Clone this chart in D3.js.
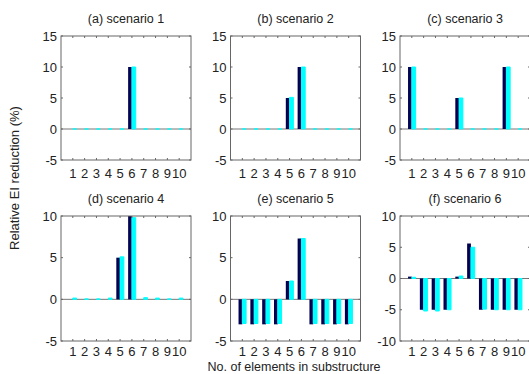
<!DOCTYPE html>
<html><head><meta charset="utf-8">
<script src="https://cdn.jsdelivr.net/npm/d3@7"></script>
<style>body{margin:0;background:#fff}svg{display:block}text{font-family:"Liberation Sans",Arial,sans-serif;fill:#222}</style>
</head><body><svg id="c" width="529" height="374"></svg>
<script>
const elements = [1,2,3,4,5,6,7,8,9,10];
const titles = ["(a) scenario 1","(b) scenario 2","(c) scenario 3","(d) scenario 4","(e) scenario 5","(f) scenario 6"];
const yDomains = [[-5,15],[-5,15],[-5,15],[-5,10],[-5,10],[-10,10]];
const yTicks = [[-5,0,5,10,15],[-5,0,5,10,15],[-5,0,5,10,15],[-5,0,5,10],[-5,0,5,10],[-10,-5,0,5,10]];
// series 1 (dark) and series 2 (cyan) per scenario
const s1 = [
  [0,0,0,0,0,10,0,0,0,0],
  [0,0,0,0,5,10,0,0,0,0],
  [10,0,0,0,5,0,0,0,10,0],
  [0,0,0,0,5,10,0,0,0,0],
  [-3,-3,-3,-3,2.2,7.3,-3,-3,-3,-3],
  [0.3,-5,-5,-5,0.3,5.6,-5,-5,-5,-5]
];
const s2 = [
  [0,0,0,0,0,10,0,0,0,0],
  [0,0,0,0,5.1,10,0,0,0,0],
  [10,0,0,0,5,0,0,0,10,0],
  [0.15,0.05,0.05,0.15,5.1,9.8,0.2,0.15,0.05,0.15],
  [-2.9,-2.9,-2.9,-2.9,2.2,7.3,-2.9,-2.9,-2.9,-2.9],
  [0.2,-5.2,-5.2,-5,0.4,5.0,-4.9,-5,-5,-5]
];
const yLabel = "Relative EI reduction (%)";
const xLabel = "No. of elements in substructure";

const svg = d3.select("#c");
const colL = [61, 230.5, 400];
const W = 130;
const rowT = [36, 216], rowB = [160, 341];
const tickOff = [13, 10.5];
const axisCol = "#666";
const bw = 0.32;

titles.forEach((t, i) => {
  const r = Math.floor(i/3), c = i%3;
  const g = svg.append("g").attr("transform", `translate(${colL[c]},${rowT[r]})`);
  const H = rowB[r]-rowT[r];
  const x = d3.scaleLinear().domain([0,11]).range([0,W]);
  const y = d3.scaleLinear().domain(yDomains[i]).range([H,0]);
  const drawS = (vals, off, col, sw) => {
    g.selectAll(null).data(elements).enter().append("path")
      .attr("d", (d,k) => {
        const x0 = x(d+off), x1 = x(d+off+bw), y0 = y(0), y1 = y(vals[k]);
        return `M${x0},${y0}H${x1}V${y1}H${x0}Z`;
      })
      .attr("fill", col).attr("stroke", sw ? col : "none").attr("stroke-width", sw);
  };
  g.append("line").attr("x1",0).attr("x2",W).attr("y1",y(0)).attr("y2",y(0)).attr("stroke","#777").attr("stroke-width",1);
  drawS(s1[i], -bw, "#000050", 0);
  drawS(s2[i], 0, "#00ffff", 1);
  g.append("rect").attr("x",0).attr("y",0).attr("width",W).attr("height",H).attr("fill","none").attr("stroke",axisCol).attr("stroke-width",1);
  elements.forEach(d => {
    g.append("line").attr("x1",x(d)).attr("x2",x(d)).attr("y1",H).attr("y2",H-2).attr("stroke",axisCol);
    g.append("line").attr("x1",x(d)).attr("x2",x(d)).attr("y1",0).attr("y2",2).attr("stroke",axisCol);
  });
  yTicks[i].forEach(v => {
    g.append("line").attr("x1",0).attr("x2",2).attr("y1",y(v)).attr("y2",y(v)).attr("stroke",axisCol);
    g.append("line").attr("x1",W).attr("x2",W-2).attr("y1",y(v)).attr("y2",y(v)).attr("stroke",axisCol);
    g.append("text").attr("x",-4).attr("y",y(v)).attr("dy","0.35em").attr("text-anchor","end").attr("font-size",13).text(v);
  });
  elements.forEach(d => {
    g.append("text").attr("x",x(d)).attr("y",H+tickOff[r]).attr("dy","0.35em").attr("text-anchor","middle").attr("font-size",13).text(d);
  });
  g.append("text").attr("x",W/2).attr("y",-13).attr("text-anchor","middle").attr("font-size",12.5).text(t);
});
svg.append("text").attr("transform","translate(19,178) rotate(-90)").attr("text-anchor","middle").attr("font-size",13).text(yLabel);
svg.append("text").attr("x",294).attr("y",371).attr("text-anchor","middle").attr("font-size",12.5).text(xLabel);
</script></body></html>
